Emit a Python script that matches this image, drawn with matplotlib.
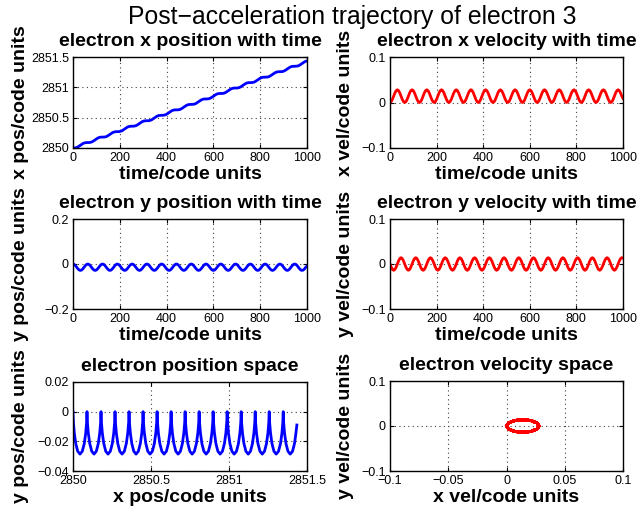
import numpy as np
import matplotlib
matplotlib.use("Agg")
import matplotlib.pyplot as plt

plt.rcParams['font.family'] = ['Liberation Sans', 'DejaVu Sans']

# ---------------- data ----------------
# time samples (code units), uniform over 0..1000, 191 samples
time = np.linspace(0, 1000, 191)

x_pos = [
    2850.0000, 2850.0003, 2850.0026, 2850.0082, 2850.0176, 2850.0303, 2850.0449, 2850.0596, 2850.0723, 2850.0817, 2850.0873, 2850.0895,
    2850.0898, 2850.0902, 2850.0924, 2850.0980, 2850.1074, 2850.1201, 2850.1348, 2850.1494, 2850.1621, 2850.1715, 2850.1771, 2850.1794,
    2850.1797, 2850.1800, 2850.1823, 2850.1878, 2850.1973, 2850.2100, 2850.2246, 2850.2392, 2850.2520, 2850.2614, 2850.2669, 2850.2692,
    2850.2695, 2850.2699, 2850.2721, 2850.2777, 2850.2871, 2850.2998, 2850.3145, 2850.3291, 2850.3418, 2850.3512, 2850.3568, 2850.3590,
    2850.3594, 2850.3597, 2850.3620, 2850.3675, 2850.3769, 2850.3897, 2850.4043, 2850.4189, 2850.4317, 2850.4411, 2850.4466, 2850.4489,
    2850.4492, 2850.4496, 2850.4518, 2850.4574, 2850.4668, 2850.4795, 2850.4941, 2850.5088, 2850.5215, 2850.5309, 2850.5365, 2850.5387,
    2850.5391, 2850.5394, 2850.5417, 2850.5472, 2850.5566, 2850.5694, 2850.5840, 2850.5986, 2850.6113, 2850.6207, 2850.6263, 2850.6286,
    2850.6289, 2850.6292, 2850.6315, 2850.6371, 2850.6465, 2850.6592, 2850.6738, 2850.6885, 2850.7012, 2850.7106, 2850.7162, 2850.7184,
    2850.7188, 2850.7191, 2850.7213, 2850.7269, 2850.7363, 2850.7490, 2850.7637, 2850.7783, 2850.7910, 2850.8004, 2850.8060, 2850.8083,
    2850.8086, 2850.8089, 2850.8112, 2850.8168, 2850.8262, 2850.8389, 2850.8535, 2850.8682, 2850.8809, 2850.8903, 2850.8958, 2850.8981,
    2850.8984, 2850.8988, 2850.9010, 2850.9066, 2850.9160, 2850.9287, 2850.9434, 2850.9580, 2850.9707, 2850.9801, 2850.9857, 2850.9880,
    2850.9883, 2850.9886, 2850.9909, 2850.9964, 2851.0059, 2851.0186, 2851.0332, 2851.0478, 2851.0606, 2851.0700, 2851.0755, 2851.0778,
    2851.0781, 2851.0785, 2851.0807, 2851.0863, 2851.0957, 2851.1084, 2851.1230, 2851.1377, 2851.1504, 2851.1598, 2851.1654, 2851.1676,
    2851.1680, 2851.1683, 2851.1706, 2851.1761, 2851.1855, 2851.1983, 2851.2129, 2851.2275, 2851.2403, 2851.2497, 2851.2552, 2851.2575,
    2851.2578, 2851.2582, 2851.2604, 2851.2660, 2851.2754, 2851.2881, 2851.3027, 2851.3174, 2851.3301, 2851.3395, 2851.3451, 2851.3473,
    2851.3477, 2851.3480, 2851.3503, 2851.3558, 2851.3652, 2851.3780, 2851.3926, 2851.4072, 2851.4199, 2851.4293, 2851.4349,
]

y_pos = [
    0.0, -0.0019, -0.0072, -0.0143, -0.0215, -0.0267, -0.0286, -0.0267, -0.0215, -0.0143, -0.0072, -0.0019,
    0.0, -0.0019, -0.0072, -0.0143, -0.0215, -0.0267, -0.0286, -0.0267, -0.0215, -0.0143, -0.0072, -0.0019,
    0.0, -0.0019, -0.0072, -0.0143, -0.0215, -0.0267, -0.0286, -0.0267, -0.0215, -0.0143, -0.0072, -0.0019,
    0.0, -0.0019, -0.0072, -0.0143, -0.0215, -0.0267, -0.0286, -0.0267, -0.0215, -0.0143, -0.0072, -0.0019,
    0.0, -0.0019, -0.0072, -0.0143, -0.0215, -0.0267, -0.0286, -0.0267, -0.0215, -0.0143, -0.0072, -0.0019,
    0.0, -0.0019, -0.0072, -0.0143, -0.0215, -0.0267, -0.0286, -0.0267, -0.0215, -0.0143, -0.0072, -0.0019,
    0.0, -0.0019, -0.0072, -0.0143, -0.0215, -0.0267, -0.0286, -0.0267, -0.0215, -0.0143, -0.0072, -0.0019,
    0.0, -0.0019, -0.0072, -0.0143, -0.0215, -0.0267, -0.0286, -0.0267, -0.0215, -0.0143, -0.0072, -0.0019,
    0.0, -0.0019, -0.0072, -0.0143, -0.0215, -0.0267, -0.0286, -0.0267, -0.0215, -0.0143, -0.0072, -0.0019,
    0.0, -0.0019, -0.0072, -0.0143, -0.0215, -0.0267, -0.0286, -0.0267, -0.0215, -0.0143, -0.0072, -0.0019,
    0.0, -0.0019, -0.0072, -0.0143, -0.0215, -0.0267, -0.0286, -0.0267, -0.0215, -0.0143, -0.0072, -0.0019,
    0.0, -0.0019, -0.0072, -0.0143, -0.0215, -0.0267, -0.0286, -0.0267, -0.0215, -0.0143, -0.0072, -0.0019,
    0.0, -0.0019, -0.0072, -0.0143, -0.0215, -0.0267, -0.0286, -0.0267, -0.0215, -0.0143, -0.0072, -0.0019,
    0.0, -0.0019, -0.0072, -0.0143, -0.0215, -0.0267, -0.0286, -0.0267, -0.0215, -0.0143, -0.0072, -0.0019,
    0.0, -0.0019, -0.0072, -0.0143, -0.0215, -0.0267, -0.0286, -0.0267, -0.0215, -0.0143, -0.0072, -0.0019,
    0.0, -0.0019, -0.0072, -0.0143, -0.0215, -0.0267, -0.0286, -0.0267, -0.0215, -0.0143, -0.0090,
]

x_vel = [
    0.0, 0.0019, 0.007, 0.014, 0.021, 0.0261, 0.028, 0.0261, 0.021, 0.014, 0.007, 0.0019,
    0.0, 0.0019, 0.007, 0.014, 0.021, 0.0261, 0.028, 0.0261, 0.021, 0.014, 0.007, 0.0019,
    0.0, 0.0019, 0.007, 0.014, 0.021, 0.0261, 0.028, 0.0261, 0.021, 0.014, 0.007, 0.0019,
    0.0, 0.0019, 0.007, 0.014, 0.021, 0.0261, 0.028, 0.0261, 0.021, 0.014, 0.007, 0.0019,
    0.0, 0.0019, 0.007, 0.014, 0.021, 0.0261, 0.028, 0.0261, 0.021, 0.014, 0.007, 0.0019,
    0.0, 0.0019, 0.007, 0.014, 0.021, 0.0261, 0.028, 0.0261, 0.021, 0.014, 0.007, 0.0019,
    0.0, 0.0019, 0.007, 0.014, 0.021, 0.0261, 0.028, 0.0261, 0.021, 0.014, 0.007, 0.0019,
    0.0, 0.0019, 0.007, 0.014, 0.021, 0.0261, 0.028, 0.0261, 0.021, 0.014, 0.007, 0.0019,
    0.0, 0.0019, 0.007, 0.014, 0.021, 0.0261, 0.028, 0.0261, 0.021, 0.014, 0.007, 0.0019,
    0.0, 0.0019, 0.007, 0.014, 0.021, 0.0261, 0.028, 0.0261, 0.021, 0.014, 0.007, 0.0019,
    0.0, 0.0019, 0.007, 0.014, 0.021, 0.0261, 0.028, 0.0261, 0.021, 0.014, 0.007, 0.0019,
    0.0, 0.0019, 0.007, 0.014, 0.021, 0.0261, 0.028, 0.0261, 0.021, 0.014, 0.007, 0.0019,
    0.0, 0.0019, 0.007, 0.014, 0.021, 0.0261, 0.028, 0.0261, 0.021, 0.014, 0.007, 0.0019,
    0.0, 0.0019, 0.007, 0.014, 0.021, 0.0261, 0.028, 0.0261, 0.021, 0.014, 0.007, 0.0019,
    0.0, 0.0019, 0.007, 0.014, 0.021, 0.0261, 0.028, 0.0261, 0.021, 0.014, 0.007, 0.0019,
    0.0, 0.0019, 0.007, 0.014, 0.021, 0.0261, 0.028, 0.0261, 0.021, 0.014, 0.009,
]

y_vel = [
    0.0, -0.007, -0.0121, -0.014, -0.0121, -0.007, 0.0, 0.007, 0.0121, 0.014, 0.0121, 0.007,
    0.0, -0.007, -0.0121, -0.014, -0.0121, -0.007, 0.0, 0.007, 0.0121, 0.014, 0.0121, 0.007,
    0.0, -0.007, -0.0121, -0.014, -0.0121, -0.007, 0.0, 0.007, 0.0121, 0.014, 0.0121, 0.007,
    0.0, -0.007, -0.0121, -0.014, -0.0121, -0.007, 0.0, 0.007, 0.0121, 0.014, 0.0121, 0.007,
    0.0, -0.007, -0.0121, -0.014, -0.0121, -0.007, 0.0, 0.007, 0.0121, 0.014, 0.0121, 0.007,
    0.0, -0.007, -0.0121, -0.014, -0.0121, -0.007, 0.0, 0.007, 0.0121, 0.014, 0.0121, 0.007,
    0.0, -0.007, -0.0121, -0.014, -0.0121, -0.007, 0.0, 0.007, 0.0121, 0.014, 0.0121, 0.007,
    0.0, -0.007, -0.0121, -0.014, -0.0121, -0.007, 0.0, 0.007, 0.0121, 0.014, 0.0121, 0.007,
    0.0, -0.007, -0.0121, -0.014, -0.0121, -0.007, 0.0, 0.007, 0.0121, 0.014, 0.0121, 0.007,
    0.0, -0.007, -0.0121, -0.014, -0.0121, -0.007, 0.0, 0.007, 0.0121, 0.014, 0.0121, 0.007,
    0.0, -0.007, -0.0121, -0.014, -0.0121, -0.007, 0.0, 0.007, 0.0121, 0.014, 0.0121, 0.007,
    0.0, -0.007, -0.0121, -0.014, -0.0121, -0.007, 0.0, 0.007, 0.0121, 0.014, 0.0121, 0.007,
    0.0, -0.007, -0.0121, -0.014, -0.0121, -0.007, 0.0, 0.007, 0.0121, 0.014, 0.0121, 0.007,
    0.0, -0.007, -0.0121, -0.014, -0.0121, -0.007, 0.0, 0.007, 0.0121, 0.014, 0.0121, 0.007,
    0.0, -0.007, -0.0121, -0.014, -0.0121, -0.007, 0.0, 0.007, 0.0121, 0.014, 0.0121, 0.007,
    0.0, -0.007, -0.0121, -0.014, -0.0121, -0.007, 0.0, 0.007, 0.0121, 0.014, 0.0130,
]

# tick values / labels
time_ticks = [0, 200, 400, 600, 800, 1000]
time_labels = ['0', '200', '400', '600', '800', '1000']
xpos_ticks = [2850, 2850.5, 2851, 2851.5]
xpos_labels = ['2850', '2850.5', '2851', '2851.5']
vel_ticks = [-0.1, 0, 0.1]
vel_labels = ['\u22120.1', '0', '0.1']
ypos_time_ticks = [-0.2, 0, 0.2]
ypos_time_labels = ['\u22120.2', '0', '0.2']
ypos_space_ticks = [-0.04, -0.02, 0, 0.02]
ypos_space_labels = ['\u22120.04', '\u22120.02', '0', '0.02']
xvel_space_ticks = [-0.1, -0.05, 0, 0.05, 0.1]
xvel_space_labels = ['\u22120.1', '\u22120.05', '0', '0.05', '0.1']

titles = ['electron x position with time', 'electron x velocity with time',
          'electron y position with time', 'electron y velocity with time',
          'electron position space', 'electron velocity space']
xlabels = ['time/code units', 'time/code units', 'time/code units',
           'time/code units', 'x pos/code units', 'x vel/code units']
ylabels = ['x pos/code units', 'x vel/code units', 'y pos/code units',
           'y vel/code units', 'y pos/code units', 'y vel/code units']
suptitle = 'Post\u2212acceleration trajectory of electron 3'

# ---------------- figure ----------------
W, H = 641, 512
fig = plt.figure(figsize=(W / 100, H / 100), dpi=100)

def px_axes(l, t, r, b):
    return fig.add_axes([l / W, 1 - b / H, (r - l) / W, (b - t) / H])

boxes = [
    (73, 57, 307, 148), (390, 57, 623, 148),
    (73, 219, 307, 309), (390, 219, 623, 309),
    (73, 382, 307, 471), (390, 381, 623, 471),
]
axs = [px_axes(*b) for b in boxes]

BLUE = (0, 0, 1)
RED = (1, 0, 0)
LW = 2.0

axs[0].plot(time, x_pos, color=BLUE, lw=LW)
axs[1].plot(time, x_vel, color=RED, lw=LW)
axs[2].plot(time, y_pos, color=BLUE, lw=LW)
axs[3].plot(time, y_vel, color=RED, lw=LW)
axs[4].plot(x_pos, y_pos, color=BLUE, lw=LW)
axs[5].plot(x_vel, y_vel, color=RED, lw=LW)

settings = [
    (time_ticks, time_labels, (0, 1000), xpos_ticks, xpos_labels, (2850, 2851.5)),
    (time_ticks, time_labels, (0, 1000), vel_ticks, vel_labels, (-0.1, 0.1)),
    (time_ticks, time_labels, (0, 1000), ypos_time_ticks, ypos_time_labels, (-0.2, 0.2)),
    (time_ticks, time_labels, (0, 1000), vel_ticks, vel_labels, (-0.1, 0.1)),
    (xpos_ticks, xpos_labels, (2850, 2851.5), ypos_space_ticks, ypos_space_labels, (-0.04, 0.02)),
    (xvel_space_ticks, xvel_space_labels, (-0.1, 0.1), vel_ticks, vel_labels, (-0.1, 0.1)),
]

for i, ax in enumerate(axs):
    xt, xl, xlim, yt, yl, ylim = settings[i]
    ax.set_xlim(*xlim)
    ax.set_ylim(*ylim)
    ax.set_xticks(xt)
    ax.set_xticklabels(xl)
    ax.set_yticks(yt)
    ax.set_yticklabels(yl)
    ax.tick_params(direction='in', length=3, width=0.8, top=True, right=True,
                   labelsize=9, pad=3)
    ax.grid(True, linestyle=(0, (1, 3)), color='0.25', linewidth=0.8)
    for sp in ax.spines.values():
        sp.set_linewidth(1.0)
    ax.set_title(titles[i], fontsize=14, fontweight='bold', pad=8)
    ax.set_xlabel(xlabels[i], fontsize=14, fontweight='bold')
    ax.set_ylabel(ylabels[i], fontsize=14, fontweight='bold')
    ax.xaxis.set_label_coords(0.5, -0.2)
    if i % 2 == 0:
        ax.yaxis.set_label_coords(-0.19, 0.5)
    else:
        ax.yaxis.set_label_coords(-0.155, 0.5)

fig.text(0.549, 1 - 24 / H, suptitle, ha='center', va='baseline', fontsize=17.8)

fig.savefig('out.png', dpi=100)
